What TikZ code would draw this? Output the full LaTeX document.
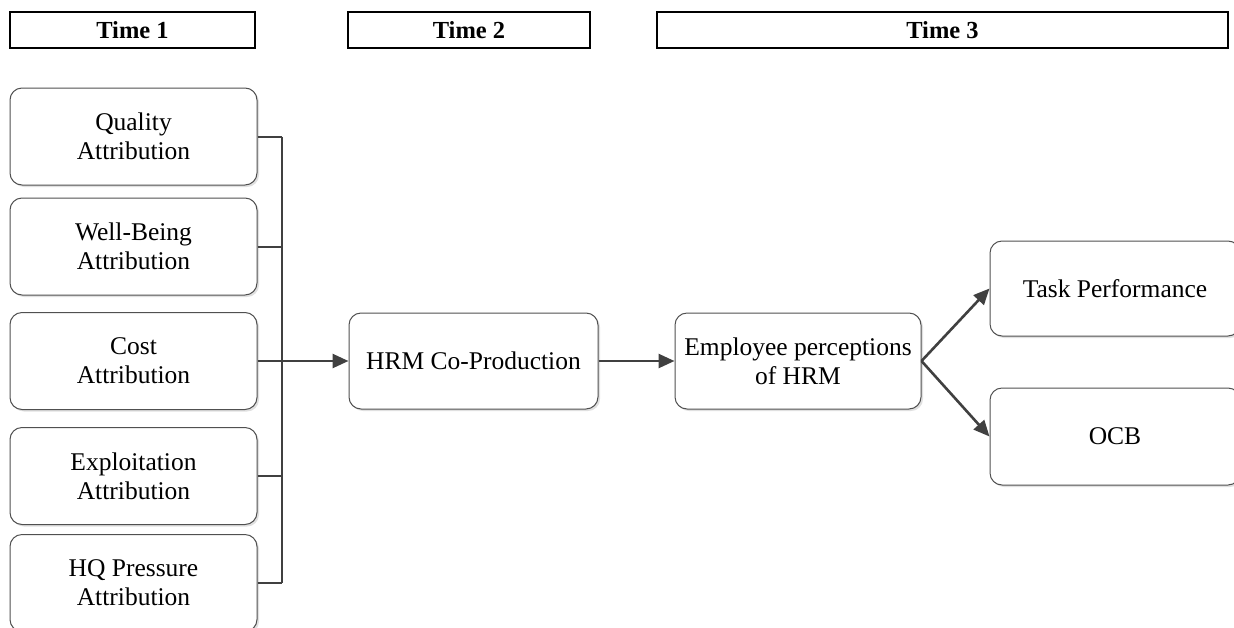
\documentclass[tikz,border=0pt]{standalone}
\usepackage{fontspec}
\setmainfont{Liberation Serif}
\usetikzlibrary{arrows.meta,shadows}
\definecolor{linegray}{HTML}{404040}
\definecolor{boxgray}{HTML}{505050}
\tikzset{
  hdr/.style={draw=black, line width=1.4pt, rectangle, inner sep=0pt, minimum height=36pt,
    font=\fontsize{24.5}{28}\selectfont\bfseries},
  varbox/.style={draw=boxgray, line width=1pt, rounded corners=12pt, fill=white, inner sep=0pt,
    align=center, font=\fontsize{25.5}{29}\selectfont,
    drop shadow={shadow xshift=2pt, shadow yshift=-2pt, fill=black, opacity=0.12}},
  stub/.style={draw=linegray, line width=2pt},
  conn/.style={draw=linegray, line width=2.6pt, -{Triangle[length=16pt,width=14pt]}},
}
\begin{document}
\begin{tikzpicture}[x=1pt,y=-1pt]
\useasboundingbox (0,0) rectangle (1234,627);
\clip (0,0) rectangle (1234,627);
% headers
\node[hdr, minimum width=245pt] (t1) at (132.5,30) {Time 1};
\node[hdr, minimum width=242pt] (t2) at (469,30) {Time 2};
\node[hdr, minimum width=571pt] (t3) at (942.5,30) {Time 3};
% left boxes
\node[varbox, minimum width=247pt, minimum height=97pt] (q) at (133.5,136.5) {Quality\\Attribution};
\node[varbox, minimum width=247pt, minimum height=97pt] (w) at (133.5,246.5) {Well-Being\\Attribution};
\node[varbox, minimum width=247pt, minimum height=97pt] (c) at (133.5,361) {Cost\\Attribution};
\node[varbox, minimum width=247pt, minimum height=97pt] (e) at (133.5,476) {Exploitation\\Attribution};
\node[varbox, minimum width=247pt, minimum height=97pt] (h) at (133.5,583) {HQ Pressure\\Attribution};
% middle
\node[varbox, minimum width=249pt, minimum height=96pt] (hrm) at (473.5,361) {HRM Co-Production};
\node[varbox, minimum width=246pt, minimum height=96pt] (emp) at (798,361) {Employee perceptions\\of HRM};
% outcomes
\node[varbox, minimum width=250pt, minimum height=95pt] (tp) at (1115,288.5) {Task Performance};
\node[varbox, minimum width=250pt, minimum height=97pt] (ocb) at (1115,436.5) {OCB};
% bracket
\coordinate (vt) at (282,136.5);
\coordinate (vb) at (282,583);
\coordinate (vc) at (282,361);
\draw[stub] (q.east) -- (vt);
\draw[stub] (w.east) -- (282,246.5);
\draw[stub] (c.east) -- (vc);
\draw[stub] (e.east) -- (282,476);
\draw[stub] (h.east) -- (vb);
\draw[draw=linegray, line width=2.4pt] (vt) -- (vb);
% arrows
\draw[conn] (vc) -- (hrm.west);
\draw[conn] (hrm.east) -- (emp.west);
\draw[conn] (emp.east) -- (tp.west);
\draw[conn] (emp.east) -- (ocb.west);
\end{tikzpicture}
\end{document}
